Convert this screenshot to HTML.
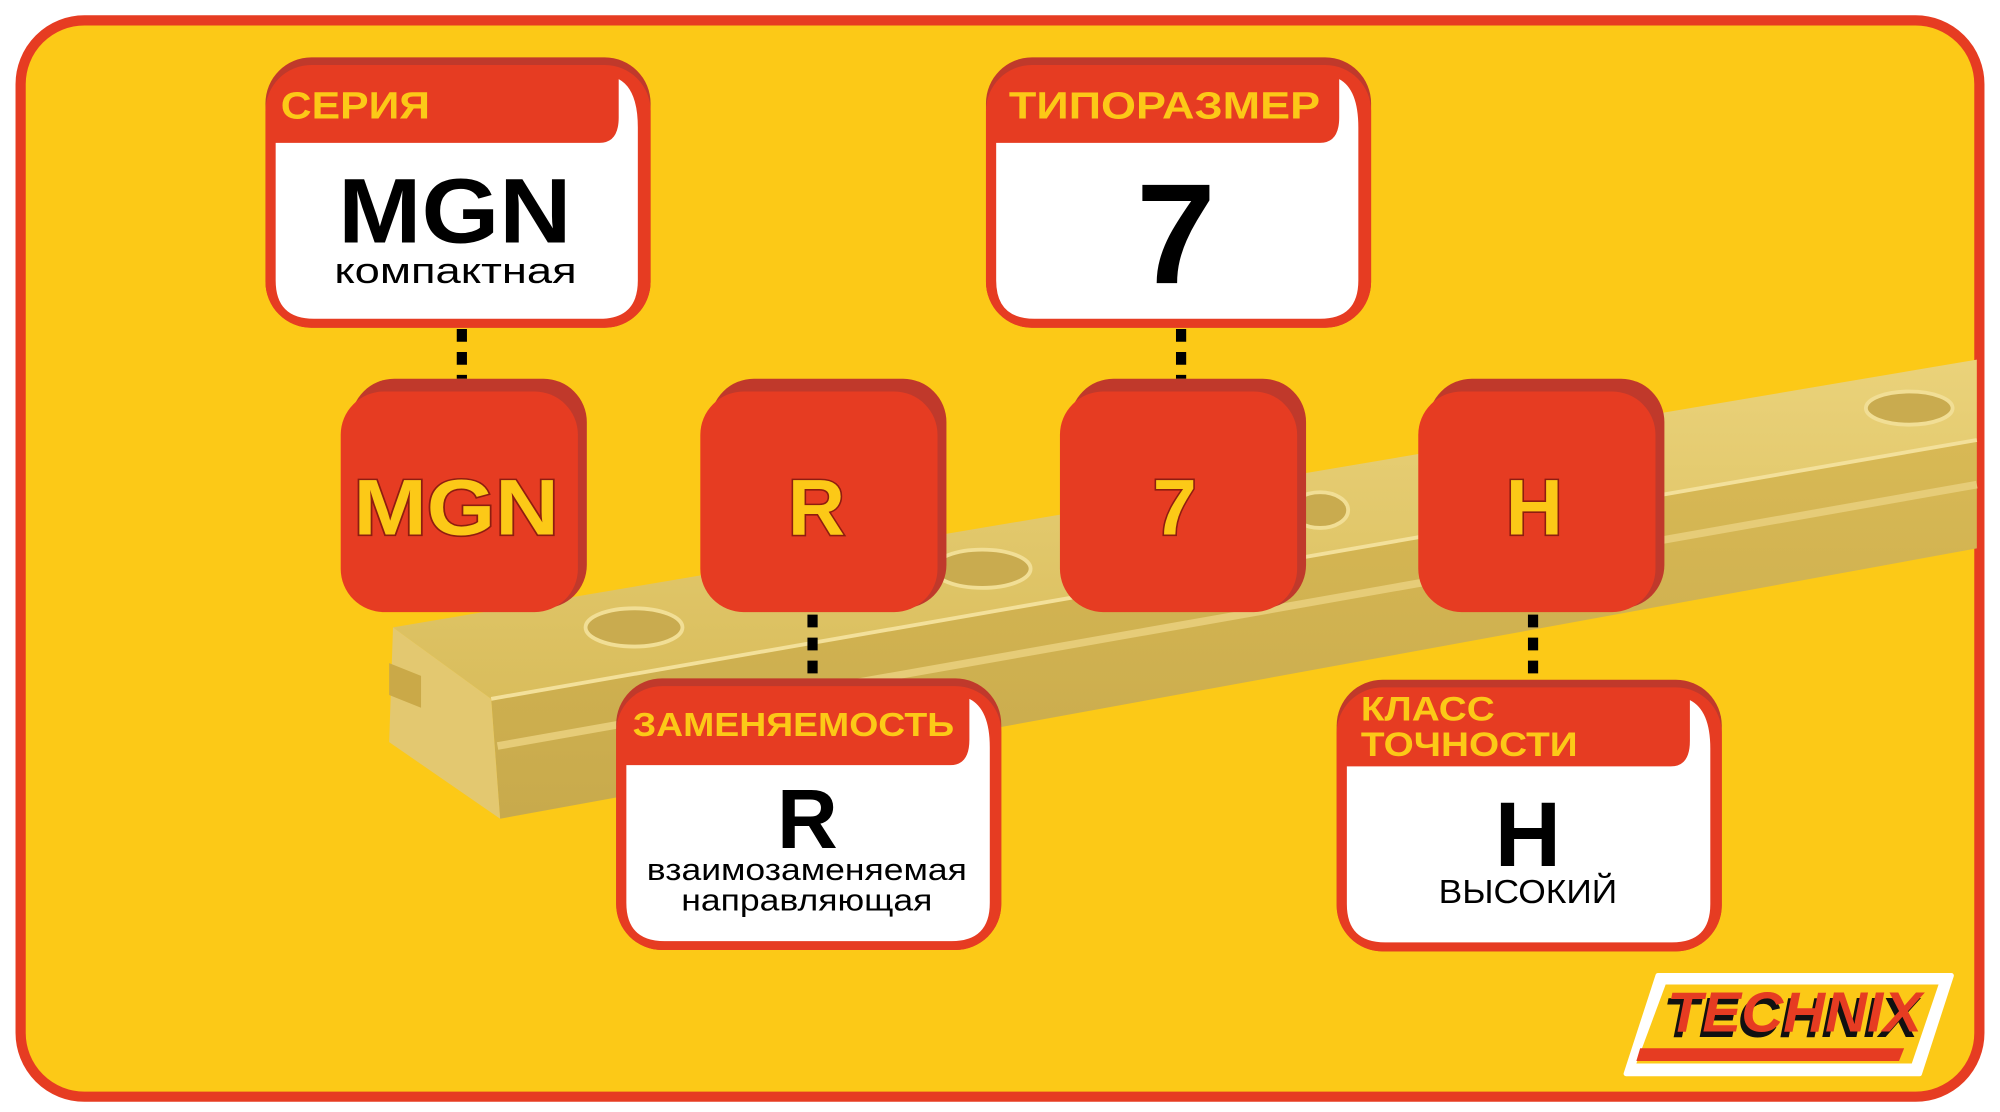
<!DOCTYPE html>
<html><head><meta charset="utf-8"><style>
html,body{margin:0;padding:0;background:#fff;}
svg{display:block;}
text{font-family:"Liberation Sans","DejaVu Sans",sans-serif;}
</style></head><body>
<svg width="2000" height="1112" viewBox="0 0 1568 872" xmlns="http://www.w3.org/2000/svg">
<defs>
<linearGradient id="top" x1="0" y1="0" x2="0" y2="1"><stop offset="0" stop-color="#ead27a"/><stop offset="1" stop-color="#d9bd5c"/></linearGradient>
<linearGradient id="side" x1="0" y1="0" x2="0" y2="1"><stop offset="0" stop-color="#d8b955"/><stop offset="1" stop-color="#c8aa4c"/></linearGradient>
</defs>
<rect x="16" y="16" width="1536" height="844" rx="50" fill="#FCC917" stroke="#E63C22" stroke-width="8"/>
<!-- rail -->
<polygon points="308,492 1550,282 1550,345 385,548" fill="url(#top)"/>
<polygon points="385,548 1550,345 1550,430 392,642" fill="url(#side)"/>
<polygon points="308,492 385,548 392,642 305,582" fill="#e3c870"/>
<polygon points="305,520 330,530 330,555 305,545" fill="#caa948"/>
<line x1="385" y1="548" x2="1550" y2="345" stroke="#f3e09a" stroke-width="3"/>
<line x1="390" y1="585" x2="1550" y2="380" stroke="#e6cc78" stroke-width="6"/>
<g fill="#c9ab4f" stroke="#f1de95" stroke-width="3">
<ellipse cx="497" cy="492" rx="38" ry="15"/><ellipse cx="770" cy="446" rx="38" ry="15"/><ellipse cx="1035" cy="400" rx="22" ry="14"/><ellipse cx="1497" cy="320" rx="34" ry="13"/>
</g>
<!-- connectors -->
<g stroke="#000" stroke-width="8" stroke-dasharray="10,8">
<line x1="362" y1="258" x2="362" y2="297"/><line x1="926" y1="258" x2="926" y2="297"/>
<line x1="637" y1="482" x2="637" y2="530"/><line x1="1202" y1="482" x2="1202" y2="530"/>
</g>
<!-- cards -->
<rect x="208" y="45" width="302" height="212" rx="36" fill="#c0392b"/>
<rect x="208" y="51" width="302" height="206" rx="36" fill="#E63C22"/>
<path d="M216,112 H470 Q485,112 485,92 V62 Q500,70 500,100 V220 Q500,250 470,250 H246 Q216,250 216,220 Z" fill="#fff"/>
<text x="220" y="93" font-size="30" font-weight="bold" fill="#FCC917" textLength="117" lengthAdjust="spacingAndGlyphs">СЕРИЯ</text>
<text x="265" y="190" font-size="72" font-weight="bold" fill="#000" textLength="183" lengthAdjust="spacingAndGlyphs">MGN</text>
<text x="262" y="222" font-size="28" fill="#000" textLength="190" lengthAdjust="spacingAndGlyphs">компактная</text>

<rect x="773" y="45" width="302" height="212" rx="36" fill="#c0392b"/>
<rect x="773" y="51" width="302" height="206" rx="36" fill="#E63C22"/>
<path d="M781,112 H1035 Q1050,112 1050,92 V62 Q1065,70 1065,100 V220 Q1065,250 1035,250 H811 Q781,250 781,220 Z" fill="#fff"/>
<text x="791" y="93" font-size="30" font-weight="bold" fill="#FCC917" textLength="244" lengthAdjust="spacingAndGlyphs">ТИПОРАЗМЕР</text>
<text x="922" y="222" font-size="112" font-weight="bold" text-anchor="middle" fill="#000">7</text>

<rect x="483" y="532" width="302" height="213" rx="36" fill="#c0392b"/>
<rect x="483" y="538" width="302" height="207" rx="36" fill="#E63C22"/>
<path d="M491,600 H745 Q760,600 760,580 V548 Q776,556 776,586 V708 Q776,738 746,738 H521 Q491,738 491,708 Z" fill="#fff"/>
<text x="496" y="577" font-size="26" font-weight="bold" fill="#FCC917" textLength="252" lengthAdjust="spacingAndGlyphs">ЗАМЕНЯЕМОСТЬ</text>
<text x="633" y="665" font-size="66" font-weight="bold" text-anchor="middle" fill="#000">R</text>
<text x="507" y="690" font-size="24" fill="#000" textLength="251" lengthAdjust="spacingAndGlyphs">взаимозаменяемая</text>
<text x="534" y="714" font-size="24" fill="#000" textLength="197" lengthAdjust="spacingAndGlyphs">направляющая</text>

<rect x="1048" y="533" width="302" height="213" rx="36" fill="#c0392b"/>
<rect x="1048" y="539" width="302" height="207" rx="36" fill="#E63C22"/>
<path d="M1056,601 H1310 Q1325,601 1325,581 V549 Q1341,557 1341,587 V709 Q1341,739 1311,739 H1086 Q1056,739 1056,709 Z" fill="#fff"/>
<text x="1067" y="565" font-size="27" font-weight="bold" fill="#FCC917" textLength="105" lengthAdjust="spacingAndGlyphs">КЛАСС</text>
<text x="1067" y="593" font-size="27" font-weight="bold" fill="#FCC917" textLength="170" lengthAdjust="spacingAndGlyphs">ТОЧНОСТИ</text>
<text x="1198" y="679" font-size="72" font-weight="bold" text-anchor="middle" fill="#000">H</text>
<text x="1128" y="708" font-size="26" fill="#000" textLength="140" lengthAdjust="spacingAndGlyphs">ВЫСОКИЙ</text>

<!-- squares -->
<g>
<rect x="275" y="297" width="185" height="180" rx="34" fill="#c0392b"/>
<rect x="267" y="307" width="186" height="173" rx="34" fill="#E63C22"/>
<rect x="557" y="297" width="185" height="180" rx="34" fill="#c0392b"/>
<rect x="549" y="307" width="186" height="173" rx="34" fill="#E63C22"/>
<rect x="839" y="297" width="185" height="180" rx="34" fill="#c0392b"/>
<rect x="831" y="307" width="186" height="173" rx="34" fill="#E63C22"/>
<rect x="1120" y="297" width="185" height="180" rx="34" fill="#c0392b"/>
<rect x="1112" y="307" width="186" height="173" rx="34" fill="#E63C22"/>
</g>
<g font-size="62" font-weight="bold" fill="#FCC917" stroke="#8e1d10" stroke-width="2.5" paint-order="stroke">
<text x="277" y="419" textLength="161" lengthAdjust="spacingAndGlyphs">MGN</text>
<text x="640" y="419" text-anchor="middle">R</text><text x="921" y="419" text-anchor="middle">7</text><text x="1203" y="419" text-anchor="middle">H</text>
</g>
<!-- logo -->
<polygon points="1300,765 1530,765 1505,842 1275,842" fill="#fff" stroke="#fff" stroke-width="4" stroke-linejoin="round"/>
<polygon points="1306,772 1520,772 1499,834 1283,834" fill="#FCC917"/>
<polygon points="1286,822 1493,822 1489,832 1283,832" fill="#E63C22"/>
<text x="1407" y="811" font-size="44" font-weight="bold" font-style="italic" text-anchor="middle" fill="#111" transform="translate(-3,2)" textLength="200" lengthAdjust="spacingAndGlyphs">TECHNIX</text>
<text x="1407" y="809" font-size="44" font-weight="bold" font-style="italic" text-anchor="middle" fill="#E63C22" textLength="200" lengthAdjust="spacingAndGlyphs">TECHNIX</text>
</svg>
</body></html>
